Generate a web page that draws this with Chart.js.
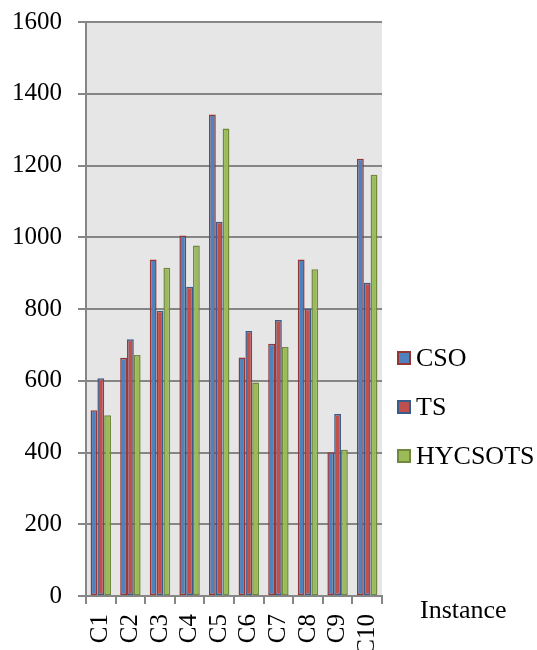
<!DOCTYPE html>
<html>
<head>
<meta charset="utf-8">
<script src="https://cdn.jsdelivr.net/npm/chart.js@4"></script>
<style>
  html, body { margin: 0; padding: 0; background: #fff; }
  #wrap { position: relative; width: 537px; height: 650px; overflow: hidden; }
  #legend { position: absolute; left: 397px; top: 343px; font: 26px "Liberation Serif", serif; color: #000; }
  .legend-item { display: flex; align-items: center; height: 30px; margin-bottom: 19px; }
  .legend-box { width: 10px; height: 10px; border: 2px solid; margin-right: 5px; }
  #xtitle { position: absolute; left: 420px; top: 595px; font: 26px "Liberation Serif", serif; color: #000; }
</style>
</head>
<body>
<div id="wrap">
  <canvas id="chart" width="537" height="650"></canvas>
  <div id="legend"></div>
  <div id="xtitle">Instance</div>
</div>
<script>
/* ---- données ---- */
const categories = ['C1', 'C2', 'C3', 'C4', 'C5', 'C6', 'C7', 'C8', 'C9', 'C10'];
const csoValues  = [518, 664, 938, 1005, 1342, 665, 703, 938, 401, 1219];
const tsValues   = [607, 716, 795, 862, 1043, 739, 769, 801, 507, 873];
const hycValues  = [504, 672, 915, 977, 1303, 595, 694, 911, 408, 1174];
const yTicks     = [0, 200, 400, 600, 800, 1000, 1200, 1400, 1600];

const series = [
  { label: 'CSO',     data: csoValues, fill: '#4F81BD', border: '#953735' },
  { label: 'TS',      data: tsValues,  fill: '#C0504D', border: '#385D8A' },
  { label: 'HYCSOTS', data: hycValues, fill: '#9BBB59', border: '#71893F' }
];

/* fond gris de la zone de tracé */
const plotBg = {
  id: 'plotBg',
  beforeDraw(chart) {
    const a = chart.chartArea, ctx = chart.ctx;
    ctx.save();
    ctx.fillStyle = '#E6E6E6';
    ctx.fillRect(a.left, a.top, a.right - a.left, a.bottom - a.top);
    ctx.restore();
  }
};

const font = { family: '"Liberation Serif", "Times New Roman", serif', size: 25 };

new Chart(document.getElementById('chart'), {
  type: 'bar',
  data: {
    labels: categories,
    datasets: series.map(s => ({
      label: s.label,
      data: s.data,
      backgroundColor: s.fill,
      borderColor: s.border,
      borderWidth: 1.5,
      borderSkipped: false,
      barPercentage: 1,
      categoryPercentage: 0.69
    }))
  },
  options: {
    responsive: false,
    animation: false,
    layout: { padding: { top: 22, right: 155, left: 0, bottom: 0 } },
    plugins: { legend: { display: false }, tooltip: { enabled: false } },
    scales: {
      x: {
        grid: { display: true, drawOnChartArea: false, offset: true, color: '#868686', lineWidth: 2, tickLength: 8 },
        border: { display: true, color: '#868686', width: 2 },
        ticks: { color: '#000', font: font, minRotation: 90, maxRotation: 90, padding: 10, autoSkip: false },
        afterFit(scale) { scale.height = 54; scale.paddingLeft = 0; scale.paddingRight = 0; }
      },
      y: {
        min: 0,
        max: 1600,
        afterBuildTicks(scale) { scale.ticks = yTicks.map(v => ({ value: v })); },
        grid: { color: '#868686', lineWidth: 2, tickLength: 8 },
        border: { display: true, color: '#868686', width: 2 },
        ticks: { color: '#000', font: font, padding: 16, callback: v => String(v) },
        afterFit(scale) { scale.width = 86; scale.paddingTop = 0; scale.paddingBottom = 0; }
      }
    }
  },
  plugins: [plotBg]
});

/* légende personnalisée */
const legendEl = document.getElementById('legend');
series.forEach(function (s) {
  const item = document.createElement('div');
  item.className = 'legend-item';
  item.innerHTML = `<span class="legend-box" style="background:${s.fill};border-color:${s.border}"></span><span>${s.label}</span>`;
  legendEl.appendChild(item);
});
</script>
</body>
</html>
